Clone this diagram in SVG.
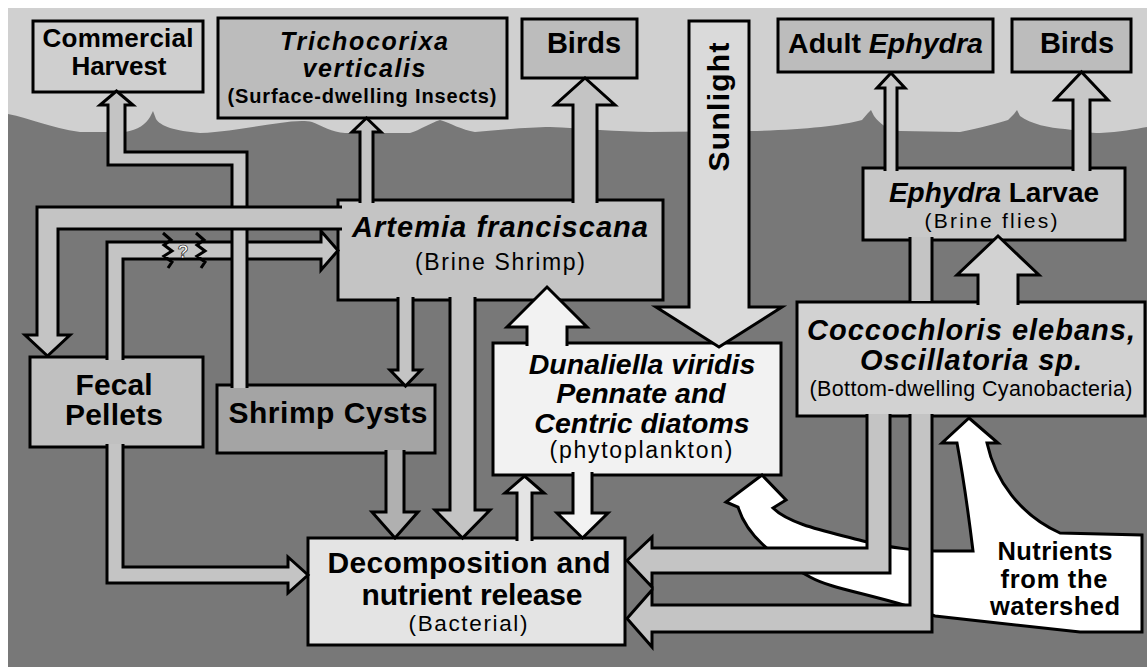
<svg xmlns="http://www.w3.org/2000/svg" width="1147" height="667" viewBox="0 0 1147 667">
<style>
.box{stroke:#000;stroke-width:3}
.arr{stroke:#000;stroke-width:3;stroke-linejoin:miter}
.t{font-family:"Liberation Sans",Arial,sans-serif;font-weight:bold;fill:#000;text-anchor:middle}
.i{font-style:italic}
.n{font-weight:normal}
.lt{fill:#c4c4c4}
</style>
<rect x="0" y="0" width="1147" height="667" fill="#ffffff"/>
<rect x="8" y="8" width="1139" height="659" fill="#d0d0d0"/>
<path d="M8,114 C30,118 50,128 80,132 L125,132 C138,130 146,124 150,117 L153,111 L156,119 C160,126 175,131 200,133 C230,132 255,126 280,123 C292,121 305,120 312,122 C322,126 332,132 345,133 L410,133 C420,130 430,123 440,120 C450,123 462,130 475,132 C500,130 530,127 550,127 C580,128 620,132 650,132 L750,131 C800,130 840,126 862,120 L868,113 L871,110 L874,116 C880,124 888,130 900,131 L960,132 C980,128 995,124 1008,120 L1014,114 L1017,110 L1020,116 C1030,124 1050,128 1065,129 C1080,131 1090,133 1100,133 C1120,132 1135,129 1147,127 L1147,667 L8,667 Z" fill="#787878"/>

<g id="commercial-harvest">
<rect class="box" x="33" y="21" width="170" height="71" fill="#cfcfcf"/>
<text class="t" x="118" y="47" font-size="26" textLength="151">Commercial</text>
<text class="t" x="119" y="75" font-size="26" textLength="95">Harvest</text>
</g>
<g id="trichocorixa">
<rect class="box" x="218" y="18" width="289" height="100" fill="#bcbcbc"/>
<text class="t i" x="364" y="50" font-size="25" textLength="168">Trichocorixa</text>
<text class="t i" x="364" y="77" font-size="25" textLength="123">verticalis</text>
<text class="t" x="362" y="103" font-size="20" textLength="269">(Surface-dwelling Insects)</text>
</g>
<g id="birds-left">
<rect class="box" x="522" y="19" width="115" height="59" fill="#bcbcbc"/>
<text class="t" x="584" y="53" font-size="29">Birds</text>
</g>
<g id="adult-ephydra">
<rect class="box" x="778" y="19" width="215" height="53" fill="#bcbcbc"/>
<text class="t" x="885.5" y="53" font-size="28.5">Adult <tspan class="i">Ephydra</tspan></text>
</g>
<g id="birds-right">
<rect class="box" x="1012" y="19" width="119" height="53" fill="#bcbcbc"/>
<text class="t" x="1077" y="53" font-size="29">Birds</text>
</g>
<g id="ephydra-larvae">
<rect class="box" x="863" y="168" width="262" height="72" fill="#c8c8c8"/>
<text class="t" x="994" y="202" font-size="28"><tspan class="i">Ephydra</tspan> Larvae</text>
<text class="t n" x="991" y="228" font-size="21" textLength="133">(Brine flies)</text>
</g>
<g id="artemia">
<rect class="box" x="338" y="200" width="325" height="100" fill="#c4c4c4"/>
<text class="t i" x="500" y="237" font-size="29" textLength="296">Artemia franciscana</text>
<text class="t n" x="500" y="270" font-size="23" textLength="170">(Brine Shrimp)</text>
</g>
<g id="fecal-pellets">
<rect class="box" x="30" y="357" width="173" height="90" fill="#c0c0c0"/>
<text class="t" x="114" y="395" font-size="30" textLength="77">Fecal</text>
<text class="t" x="114" y="425" font-size="30" textLength="98">Pellets</text>
</g>
<g id="shrimp-cysts">
<rect class="box" x="217" y="385" width="218" height="68" fill="#a4a4a4"/>
<text class="t" x="328" y="423" font-size="30" textLength="199">Shrimp Cysts</text>
</g>
<g id="phytoplankton">
<rect class="box" x="493" y="343" width="288" height="132" fill="#f2f2f2"/>
<text class="t i" x="642" y="374" font-size="28.5">Dunaliella viridis</text>
<text class="t i" x="641" y="403" font-size="28.5">Pennate and</text>
<text class="t i" x="642" y="433" font-size="28.5">Centric diatoms</text>
<text class="t n" x="641" y="458" font-size="23" textLength="183">(phytoplankton)</text>
</g>
<g id="sunlight">
<path class="arr" d="M689,21 L749,21 L749,307 L782,307 L719,347 L656,307 L689,307 Z" fill="#dadada"/>
<text class="t" transform="translate(729,107) rotate(-90)" font-size="30" textLength="129">Sunlight</text>
</g>
<g id="coccochloris">
<rect class="box" x="797" y="302" width="348" height="114" fill="#d2d2d2"/>
<text class="t i" x="971" y="340" font-size="29" textLength="328">Coccochloris elebans,</text>
<text class="t i" x="971" y="370" font-size="29" textLength="222">Oscillatoria sp.</text>
<text class="t n" x="971" y="396" font-size="21.5" textLength="323">(Bottom-dwelling Cyanobacteria)</text>
</g>
<g id="decomposition">
<rect class="box" x="308" y="538" width="317" height="107" fill="#e4e4e4"/>
<text class="t" x="469" y="573" font-size="30" textLength="283">Decomposition and</text>
<text class="t" x="472" y="605" font-size="30" textLength="221">nutrient release</text>
<text class="t n" x="468" y="631" font-size="22.5" textLength="119">(Bacterial)</text>
</g>
<g id="nutrients">
<path class="arr" d="M969,418 L998,443 L987,443 C995,480 1020,515 1060,533 L1142,535 L1142,632 L1080,632 L935,616 L907,606 C860,592 830,588 810,577 C780,560 748,540 738,507 L726,502 L762,475 L786,500 L773,508 C790,525 830,532 863,541 C890,548 920,551 935,551 L973,551 C968,510 962,470 957,443 L942,443 Z" fill="#ffffff"/>
<text class="t" x="1055" y="560" font-size="25.5" textLength="115">Nutrients</text>
<text class="t" x="1054" y="588" font-size="25.5" textLength="107">from the</text>
<text class="t" x="1055" y="615" font-size="25.5" textLength="130">watershed</text>
</g>

<g id="connectors">
<path class="arr lt" d="M123,360 L123,259 L321,259 L321,270 L338,250.5 L321,231 L321,242 L107,242 L107,360"/>
<path d="M163,233 L171,240 L164,245 L172,251 L164,256 L172,262 L168,268 M196,233 L204,240 L197,245 L205,251 L197,256 L205,262 L201,268" fill="none" stroke="#000" stroke-width="3"/>
<text x="183" y="258" font-family="Liberation Sans,Arial,sans-serif" font-weight="bold" font-size="18" fill="#fff" stroke="#000" stroke-width="0.6" text-anchor="middle">?</text>
<path class="arr lt" d="M247,388 L247,152 L125,152 L125,105 L133,105 L116.5,91 L100,105 L108,105 L108,165 L232,165 L232,388"/>
<path class="arr lt" d="M342,229 L58,229 L58,335 L70,335 L47.5,356 L25,335 L37,335 L37,207 L342,207"/>
<path class="arr lt" d="M360,203 L360,132 L352,132 L366.5,118 L381,132 L373,132 L373,203"/>
<path class="arr lt" d="M573,203 L573,105 L555,105 L585,78 L615,105 L597,105 L597,203"/>
<path class="arr lt" d="M398,297 L398,370 L390,370 L405.5,386 L421,370 L413,370 L413,297"/>
<path class="arr lt" d="M450,297 L450,510 L435,510 L462.5,538 L490,510 L475,510 L475,297"/>
<path class="arr lt" d="M107,444 L107,583 L288,583 L288,593 L308,575 L288,557 L288,567 L123,567 L123,444"/>
<path class="arr" d="M386,450 L386,512 L372,512 L395,538 L418,512 L404,512 L404,450" fill="#b0b0b0"/>
<path class="arr" d="M527,346 L527,327 L507,327 L547,287 L587,327 L567,327 L567,346" fill="#f2f2f2"/>
<path class="arr" d="M573,472 L573,513 L557,513 L582.5,538 L608,513 L592,513 L592,472" fill="#f2f2f2"/>
<path class="arr" d="M517,541 L517,493 L505,493 L524.5,476 L544,493 L532,493 L532,541" fill="#e4e4e4"/>
<path class="arr" d="M885,171 L885,88 L877,88 L891,73 L905,88 L897,88 L897,171" fill="#c8c8c8"/>
<path class="arr" d="M1073,171 L1073,100 L1055,100 L1081.5,72 L1108,100 L1090,100 L1090,171" fill="#c8c8c8"/>
<path class="arr" d="M978,305 L978,275 L957,275 L998,236 L1039,275 L1018,275 L1018,305" fill="#d2d2d2"/>
<rect x="910" y="237" width="22" height="64" class="lt"/>
<path d="M910,237 V301 M932,237 V301" stroke="#000" stroke-width="3" fill="none"/>
<path class="arr lt" d="M932,414 L932,632 L652,632 L652,647 L627,618.5 L652,590 L652,605 L910,605 L910,414"/>
<path class="arr lt" d="M890,414 L890,573 L652,573 L652,587 L627,560.5 L652,537 L652,548 L867,548 L867,414"/>
</g>
</svg>
